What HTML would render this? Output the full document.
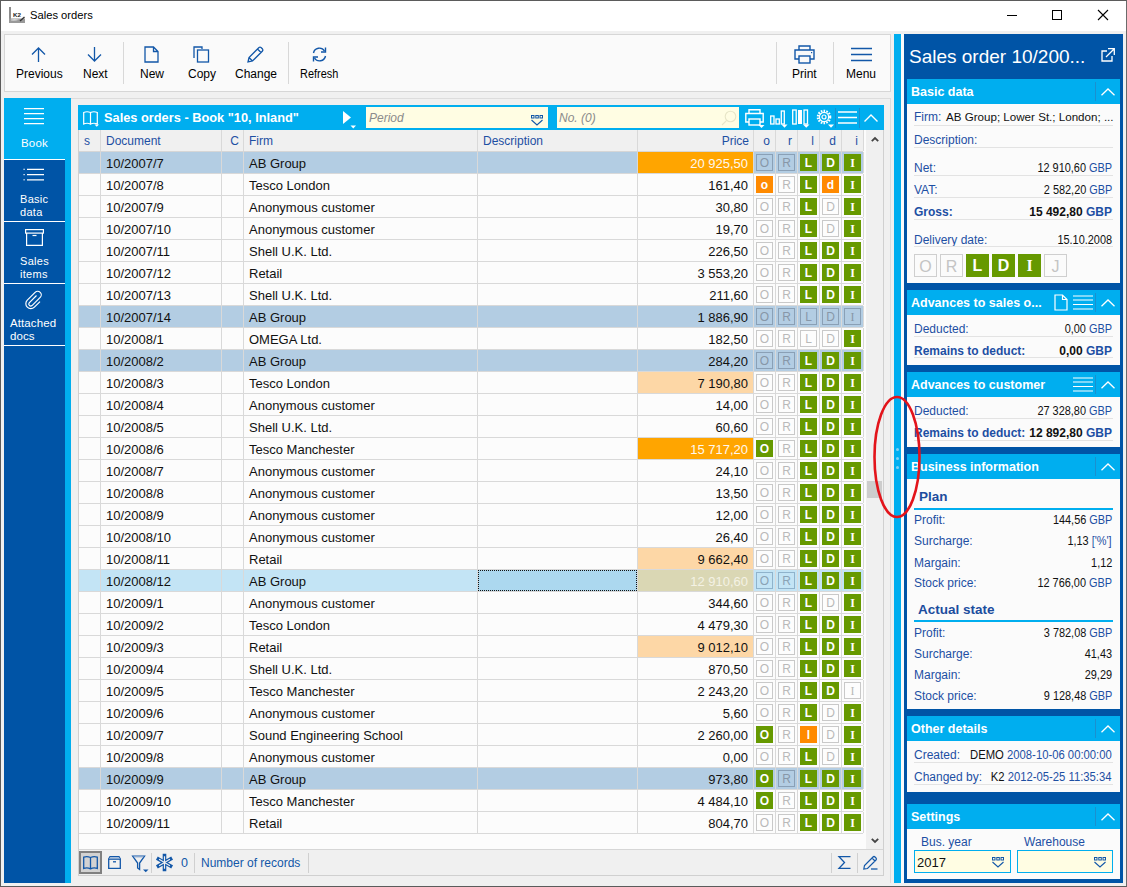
<!DOCTYPE html><html><head><meta charset="utf-8"><style>
*{box-sizing:border-box;margin:0;padding:0}
html,body{width:1127px;height:887px;overflow:hidden;background:#f0f0f0;font-family:"Liberation Sans",sans-serif;color:#111}
.a{position:absolute}
.t{position:absolute;white-space:pre;line-height:1}
svg{position:absolute;overflow:visible}
.row{position:absolute;left:79px;width:784px;height:22px;border-bottom:1px solid #d9d9d9;background:#fcfcfc}
.c{position:absolute;top:0;height:21px;border-right:1px solid #d9d9d9;font-size:13px;line-height:23px;white-space:pre;overflow:hidden}
.sq{position:absolute;left:2px;top:2px;width:17px;height:17px;font-size:12px;font-weight:bold;color:#fff;text-align:center;line-height:18px}
.sg{background:#669900}
.so{background:#ff8a00}
.sx{border:1px solid #c9c9c9;color:#b9b9b9;font-weight:normal;line-height:16px;font-size:12px}
.ss{border:1px solid #8aa0b6;color:#8797a8;font-weight:normal;line-height:16px;font-size:12px}
.hd{position:absolute;top:0;height:21px;border-right:1px solid #d9d9d9;font-size:12px;line-height:22px;color:#1d4fa3;white-space:pre}
.sec{position:absolute;left:907px;width:213px;background:#fbfbfb}
.sech{position:absolute;left:0;top:0;width:213px;height:25px;background:#00aeef;color:#fff;font-weight:bold;font-size:12.5px;line-height:27px;padding-left:4px;white-space:pre}
.lbl{color:#1d4fa3}
.fr{position:absolute;left:7px;width:199px;height:22px;border-bottom:1px solid #e3e3e3;font-size:12px;white-space:pre}
.fr .l{position:absolute;left:0;bottom:3px;color:#1d4fa3}
.fr .v{position:absolute;right:1px;bottom:3px;color:#111}
.g{color:#1d4fa3}
</style></head><body>
<div class="a" style="left:0;top:0;width:1127px;height:887px;border:1px solid #5b5b5b;border-right-color:#6b6b6b"></div>
<div class="a" style="left:1px;top:1px;width:1125px;height:30px;background:#fff"></div>
<svg style="left:9px;top:7px" width="17" height="16" viewBox="0 0 17 16">
<rect x="0" y="0" width="2" height="16" fill="#8c8c8c"/>
<rect x="0" y="11.5" width="16" height="4.5" fill="#9a9a9a"/>
<path d="M2 12.5Q6 11.5 10 12.8Q6 14 2 13.5Z" fill="#d8d8d8"/>
<path d="M11 14L15.5 10" stroke="#333" stroke-width="1.4"/>
<text x="4" y="10" font-size="6" font-weight="bold" font-family="Liberation Sans" fill="#222" textLength="8" lengthAdjust="spacingAndGlyphs">K2</text>
</svg>
<div class="t" style="left:30px;top:10px;font-size:11.2px;color:#000">Sales orders</div>
<div class="a" style="left:1007px;top:15px;width:10px;height:1px;background:#000"></div>
<div class="a" style="left:1052px;top:10px;width:10px;height:10px;border:1px solid #000"></div>
<svg style="left:1098px;top:10px" width="10" height="10" viewBox="0 0 10 10"><path d="M0 0L10 10M10 0L0 10" stroke="#000" stroke-width="1.1"/></svg>
<div class="a" style="left:4px;top:34px;width:887px;height:58px;background:#fafafa;border:1px solid #d6d6d6"></div>
<svg style="left:30px;top:47px" width="17" height="15" viewBox="0 0 17 15"><path d="M8.5 15V1M2 7.5L8.5 1L15 7.5" fill="none" stroke="#1257a8" stroke-width="1.3"/></svg>
<div class="t" style="left:16px;top:68px;font-size:12px;color:#000">Previous</div>
<svg style="left:86px;top:47px" width="17" height="15" viewBox="0 0 17 15"><path d="M8.5 0V14M2 7.5L8.5 14L15 7.5" fill="none" stroke="#1257a8" stroke-width="1.3"/></svg>
<div class="t" style="left:83px;top:68px;font-size:12px;color:#000">Next</div>
<div class="a" style="left:123px;top:42px;width:1px;height:42px;background:#d8d8d8"></div>
<svg style="left:144px;top:46px" width="15" height="17" viewBox="0 0 15 17"><path d="M1 1H9.5L14 5.5V16H1Z M9.5 1V5.5H14" fill="none" stroke="#1257a8" stroke-width="1.3"/></svg>
<div class="t" style="left:140px;top:68px;font-size:12px;color:#000">New</div>
<svg style="left:193px;top:46px" width="17" height="17" viewBox="0 0 17 17"><path d="M1 12V1H9V3" fill="none" stroke="#1257a8" stroke-width="1.3"/><rect x="4.5" y="4" width="11" height="12" fill="none" stroke="#1257a8" stroke-width="1.3"/></svg>
<div class="t" style="left:188px;top:68px;font-size:12px;color:#000">Copy</div>
<svg style="left:247px;top:46px" width="17" height="17" viewBox="0 0 17 17"><path d="M1 16L2 11.5L12 1.5Q13 0.8 14 1.5L15.5 3Q16.2 4 15.5 5L5.5 15Z M10.5 3L14 6.5 M2 11.5L5.5 15" fill="none" stroke="#1257a8" stroke-width="1.3"/></svg>
<div class="t" style="left:235px;top:68px;font-size:12px;color:#000">Change</div>
<div class="a" style="left:288px;top:42px;width:1px;height:42px;background:#d8d8d8"></div>
<svg style="left:311px;top:46px" width="17" height="17" viewBox="0 0 17 17"><path d="M2.5 7A6 6 0 0 1 13.5 5 M14.5 10A6 6 0 0 1 3.5 12" fill="none" stroke="#1257a8" stroke-width="1.4"/><path d="M14.5 1.5V6H10" fill="none" stroke="#1257a8" stroke-width="1.4"/><path d="M2.5 15.5V11H7" fill="none" stroke="#1257a8" stroke-width="1.4"/></svg>
<div class="t" style="left:300px;top:68px;font-size:12px;color:#000;transform:scaleX(0.91);transform-origin:0 50%">Refresh</div>
<div class="a" style="left:776px;top:42px;width:1px;height:42px;background:#d8d8d8"></div>
<div class="a" style="left:833px;top:42px;width:1px;height:42px;background:#d8d8d8"></div>
<svg style="left:794px;top:45px" width="22" height="19" viewBox="0 0 22 19"><path d="M5 5V1H16V5" fill="none" stroke="#1257a8" stroke-width="1.4"/><path d="M5 14H1V5H20V14H16" fill="none" stroke="#1257a8" stroke-width="1.4"/><rect x="5" y="11" width="11" height="7" fill="none" stroke="#1257a8" stroke-width="1.4"/><rect x="17" y="7" width="1.2" height="1.2" fill="#1257a8"/></svg>
<div class="t" style="left:792px;top:68px;font-size:12px;color:#000">Print</div>
<svg style="left:851px;top:47px" width="21" height="15" viewBox="0 0 21 15"><path d="M0 1.5H21M0 7.5H21M0 13.5H21" stroke="#1257a8" stroke-width="1.4"/></svg>
<div class="t" style="left:846px;top:68px;font-size:12px;color:#000">Menu</div>
<div class="a" style="left:4px;top:98px;width:887px;height:785px;background:#f0f0f0;border-top:1px solid #dcdcdc;border-right:1px solid #dcdcdc"></div>
<div class="a" style="left:4px;top:98px;width:67px;height:785px;background:#00aeef"></div>
<div class="a" style="left:4px;top:160px;width:61px;height:723px;background:#0054a6"></div>
<div class="a" style="left:4px;top:159px;width:61px;height:1px;background:#fff"></div>
<div class="a" style="left:4px;top:221px;width:61px;height:1px;background:#fff"></div>
<div class="a" style="left:4px;top:283px;width:61px;height:1px;background:#fff"></div>
<div class="a" style="left:4px;top:345px;width:61px;height:1px;background:#fff"></div>
<svg style="left:24px;top:108px" width="20" height="17" viewBox="0 0 20 17"><path d="M0 0.6H20M0 5.6H20M0 10.6H20M0 15.6H20" stroke="#fff" stroke-width="1.2"/></svg>
<div class="t" style="left:4px;width:61px;text-align:center;top:138px;font-size:11.5px;color:#fff;letter-spacing:0.2px">Book</div>
<svg style="left:23px;top:168px" width="22" height="13" viewBox="0 0 22 13"><path d="M4 1.3H21M4 6.6H21M4 11.8H21" stroke="#fff" stroke-width="1.2"/><rect x="0.5" y="0.7" width="1.2" height="1.2" fill="#fff"/><rect x="0.5" y="6" width="1.2" height="1.2" fill="#fff"/><rect x="0.5" y="11.2" width="1.2" height="1.2" fill="#fff"/></svg>
<div class="t" style="left:20px;top:193px;font-size:11px;color:#fff;line-height:13px;letter-spacing:0.3px">Basic<br>data</div>
<svg style="left:25px;top:229px" width="19" height="17" viewBox="0 0 19 17"><rect x="0.6" y="0.6" width="17.8" height="3.5" fill="none" stroke="#fff" stroke-width="1.2"/><path d="M1.6 4.1V16.4H17.4V4.1" fill="none" stroke="#fff" stroke-width="1.2"/><path d="M7.5 6.5H11.5" stroke="#fff" stroke-width="1.2"/></svg>
<div class="t" style="left:20px;top:255px;font-size:11px;color:#fff;line-height:13px;letter-spacing:0.3px">Sales<br>items</div>
<svg style="left:25px;top:290px" width="18" height="19" viewBox="0 0 18 19"><path d="M11.5 5.5L4.2 12.8A2 2 0 0 0 7 15.6L15.2 7.4A3.6 3.6 0 0 0 10.1 2.3L2.3 10.1A5 5 0 0 0 9.4 17.2L15 11.6" fill="none" stroke="#fff" stroke-width="1.2"/></svg>
<div class="t" style="left:10px;top:317px;font-size:11.5px;color:#fff;line-height:13px;letter-spacing:0.1px">Attached<br>docs</div>
<div class="a" style="left:78px;top:105px;width:806px;height:771px;background:#fcfcfc;border:1px solid #d0d0d0"></div>
<div class="a" style="left:78px;top:105px;width:806px;height:25px;background:#00aeef"></div>
<svg style="left:83px;top:111px" width="17" height="16" viewBox="0 0 17 16"><path d="M0.7 1.5Q4 0 7.5 1.5V13Q4 11.5 0.7 13Z M7.5 1.5Q11 0 14.3 1.5V13Q11 11.5 7.5 13Z" fill="none" stroke="#fff" stroke-width="1.2"/><path d="M11.5 13.5H16L13.75 15.8Z" fill="#fff"/></svg>
<div class="t" style="left:104px;top:112px;font-size:12.8px;font-weight:bold;color:#fff">Sales orders - Book "10, Inland"</div>
<svg style="left:342px;top:110px" width="15" height="19" viewBox="0 0 15 19"><path d="M1 1L9 7.5L1 14Z" fill="#fff"/><path d="M8.5 15.5H14L11.25 18.5Z" fill="#fff"/></svg>
<div class="a" style="left:366px;top:107px;width:182px;height:21px;background:#fffde3"></div>
<div class="t" style="left:369px;top:112px;font-size:12px;font-style:italic;color:#8b8b8b">Period</div>
<svg style="left:531px;top:115px" width="12" height="11" viewBox="0 0 12 11"><rect x="0.5" y="0.5" width="2.5" height="2.5" fill="none" stroke="#1257a8" stroke-width="1"/><rect x="4.8" y="0.5" width="2.5" height="2.5" fill="none" stroke="#1257a8" stroke-width="1"/><rect x="9" y="0.5" width="2.5" height="2.5" fill="none" stroke="#1257a8" stroke-width="1"/><path d="M0.5 5L6 10L11.5 5" fill="none" stroke="#1257a8" stroke-width="1.1"/></svg>
<div class="a" style="left:557px;top:107px;width:182px;height:21px;background:#fffde3"></div>
<div class="t" style="left:559px;top:112px;font-size:12px;font-style:italic;color:#8b8b8b">No. (0)</div>
<svg style="left:721px;top:110px" width="16" height="16" viewBox="0 0 16 16"><circle cx="9.5" cy="6.5" r="5.3" fill="none" stroke="#e8e6c8" stroke-width="1.1"/><path d="M5.7 10.3L1 15" stroke="#e8e6c8" stroke-width="1.1"/></svg>
<svg style="left:745px;top:109px" width="20" height="19" viewBox="0 0 20 19"><path d="M4 4.5V0.8H15V4.5" fill="none" stroke="#fff" stroke-width="1.4"/><path d="M4 13H0.8V4.5H18.2V13H15" fill="none" stroke="#fff" stroke-width="1.4"/><rect x="4" y="10" width="11" height="6" fill="none" stroke="#fff" stroke-width="1.4"/><path d="M13.5 16H19.5L16.5 19Z" fill="#fff"/></svg>
<svg style="left:770px;top:110px" width="18" height="18" viewBox="0 0 18 18"><rect x="0.7" y="6" width="3.3" height="8" fill="none" stroke="#fff" stroke-width="1.3"/><rect x="6" y="9" width="3.3" height="5" fill="none" stroke="#fff" stroke-width="1.3"/><rect x="11.3" y="1" width="3" height="13" fill="none" stroke="#fff" stroke-width="1.3"/><path d="M11.5 14.5H17.5L14.5 17.8Z" fill="#fff"/></svg>
<svg style="left:792px;top:109px" width="19" height="19" viewBox="0 0 19 19"><rect x="0.7" y="1" width="3.5" height="14" fill="none" stroke="#fff" stroke-width="1.3"/><rect x="6" y="1" width="4" height="14" fill="#fff"/><rect x="12" y="1" width="3.5" height="14" fill="none" stroke="#fff" stroke-width="1.3"/><path d="M11 15.5H17.5L14.25 18.8Z" fill="#fff"/></svg>
<svg style="left:816px;top:109px" width="18" height="19" viewBox="0 0 18 19"><circle cx="8" cy="8" r="6.2" fill="none" stroke="#fff" stroke-width="2.2" stroke-dasharray="1.6 1.2"/><circle cx="8" cy="8" r="4.6" fill="none" stroke="#fff" stroke-width="1.2"/><circle cx="8" cy="8" r="2" fill="none" stroke="#fff" stroke-width="1.2"/><path d="M12 15.5H18L15 18.8Z" fill="#fff"/></svg>
<div class="a" style="left:835px;top:108px;width:1px;height:20px;background:#1a8fcf"></div>
<svg style="left:838px;top:111px" width="19" height="13" viewBox="0 0 19 13"><path d="M0 1H19M0 6.5H19M0 12H19" stroke="#fff" stroke-width="1.3"/></svg>
<div class="a" style="left:859px;top:108px;width:1px;height:20px;background:#1a8fcf"></div>
<svg style="left:864px;top:114px" width="14" height="8" viewBox="0 0 14 8"><path d="M0.5 7.5L7 1L13.5 7.5" fill="none" stroke="#fff" stroke-width="1.4"/></svg>
<div class="a" style="left:79px;top:130px;width:784px;height:22px;background:#f0f0f0;border-bottom:1px solid #d6d6d6"></div>
<div class="hd" style="left:79px;top:130px;width:22px;padding-left:5px">s</div>
<div class="hd" style="left:101px;top:130px;width:121px;padding-left:5px">Document</div>
<div class="hd" style="left:222px;top:130px;width:22px;text-align:right;padding-right:4px">C</div>
<div class="hd" style="left:244px;top:130px;width:234px;padding-left:5px">Firm</div>
<div class="hd" style="left:478px;top:130px;width:160px;padding-left:5px">Description</div>
<div class="hd" style="left:638px;top:130px;width:116px;text-align:right;padding-right:4px">Price</div>
<div class="hd" style="left:754px;top:130px;width:22px;text-align:right;padding-right:5px">o</div>
<div class="hd" style="left:776px;top:130px;width:22px;text-align:right;padding-right:5px">r</div>
<div class="hd" style="left:798px;top:130px;width:22px;text-align:right;padding-right:5px">l</div>
<div class="hd" style="left:820px;top:130px;width:22px;text-align:right;padding-right:5px">d</div>
<div class="hd" style="left:842px;top:130px;width:22px;text-align:right;padding-right:5px">i</div>
<div class="a" style="left:866px;top:130px;width:17px;height:719px;background:#f0f0f0"></div>
<svg style="left:871px;top:136px" width="8" height="6" viewBox="0 0 8 6"><path d="M0.8 5.2L4 2L7.2 5.2" fill="none" stroke="#444" stroke-width="1.8"/></svg>
<svg style="left:871px;top:838px" width="8" height="6" viewBox="0 0 8 6"><path d="M0.8 0.8L4 4L7.2 0.8" fill="none" stroke="#444" stroke-width="1.8"/></svg>
<div class="a" style="left:867px;top:481px;width:15px;height:17px;background:#cdcdcd"></div>
<div class="row" style="top:152px;background:#b3cde3">
<div class="c" style="left:0px;width:22px;"></div>
<div class="c" style="left:22px;width:121px;padding-left:5px">10/2007/7</div>
<div class="c" style="left:143px;width:22px;"></div>
<div class="c" style="left:165px;width:234px;padding-left:5px">AB Group</div>
<div class="c" style="left:399px;width:160px;"></div>
<div class="c" style="left:559px;width:116px;text-align:right;padding-right:5px;color:#fff8ee;background:#ffa500;">20 925,50</div>
<div class="c" style="left:675px;width:22px"><div class="sq ss" style="">O</div></div>
<div class="c" style="left:697px;width:22px"><div class="sq ss" style="">R</div></div>
<div class="c" style="left:719px;width:22px"><div class="sq sg" style="">L</div></div>
<div class="c" style="left:741px;width:22px"><div class="sq sg" style="">D</div></div>
<div class="c" style="left:763px;width:22px"><div class="sq sg" style=";font-family:'Liberation Serif',serif">I</div></div>
</div>
<div class="row" style="top:174px;background:#fcfcfc">
<div class="c" style="left:0px;width:22px;"></div>
<div class="c" style="left:22px;width:121px;padding-left:5px">10/2007/8</div>
<div class="c" style="left:143px;width:22px;"></div>
<div class="c" style="left:165px;width:234px;padding-left:5px">Tesco London</div>
<div class="c" style="left:399px;width:160px;"></div>
<div class="c" style="left:559px;width:116px;text-align:right;padding-right:5px;color:#111;">161,40</div>
<div class="c" style="left:675px;width:22px"><div class="sq so" style="">o</div></div>
<div class="c" style="left:697px;width:22px"><div class="sq sx" style="background:#fdfdfd">R</div></div>
<div class="c" style="left:719px;width:22px"><div class="sq sg" style="">L</div></div>
<div class="c" style="left:741px;width:22px"><div class="sq so" style="">d</div></div>
<div class="c" style="left:763px;width:22px"><div class="sq sg" style=";font-family:'Liberation Serif',serif">I</div></div>
</div>
<div class="row" style="top:196px;background:#fcfcfc">
<div class="c" style="left:0px;width:22px;"></div>
<div class="c" style="left:22px;width:121px;padding-left:5px">10/2007/9</div>
<div class="c" style="left:143px;width:22px;"></div>
<div class="c" style="left:165px;width:234px;padding-left:5px">Anonymous customer</div>
<div class="c" style="left:399px;width:160px;"></div>
<div class="c" style="left:559px;width:116px;text-align:right;padding-right:5px;color:#111;">30,80</div>
<div class="c" style="left:675px;width:22px"><div class="sq sx" style="background:#fdfdfd">O</div></div>
<div class="c" style="left:697px;width:22px"><div class="sq sx" style="background:#fdfdfd">R</div></div>
<div class="c" style="left:719px;width:22px"><div class="sq sg" style="">L</div></div>
<div class="c" style="left:741px;width:22px"><div class="sq sx" style="background:#fdfdfd">D</div></div>
<div class="c" style="left:763px;width:22px"><div class="sq sg" style=";font-family:'Liberation Serif',serif">I</div></div>
</div>
<div class="row" style="top:218px;background:#fcfcfc">
<div class="c" style="left:0px;width:22px;"></div>
<div class="c" style="left:22px;width:121px;padding-left:5px">10/2007/10</div>
<div class="c" style="left:143px;width:22px;"></div>
<div class="c" style="left:165px;width:234px;padding-left:5px">Anonymous customer</div>
<div class="c" style="left:399px;width:160px;"></div>
<div class="c" style="left:559px;width:116px;text-align:right;padding-right:5px;color:#111;">19,70</div>
<div class="c" style="left:675px;width:22px"><div class="sq sx" style="background:#fdfdfd">O</div></div>
<div class="c" style="left:697px;width:22px"><div class="sq sx" style="background:#fdfdfd">R</div></div>
<div class="c" style="left:719px;width:22px"><div class="sq sg" style="">L</div></div>
<div class="c" style="left:741px;width:22px"><div class="sq sx" style="background:#fdfdfd">D</div></div>
<div class="c" style="left:763px;width:22px"><div class="sq sg" style=";font-family:'Liberation Serif',serif">I</div></div>
</div>
<div class="row" style="top:240px;background:#fcfcfc">
<div class="c" style="left:0px;width:22px;"></div>
<div class="c" style="left:22px;width:121px;padding-left:5px">10/2007/11</div>
<div class="c" style="left:143px;width:22px;"></div>
<div class="c" style="left:165px;width:234px;padding-left:5px">Shell U.K. Ltd.</div>
<div class="c" style="left:399px;width:160px;"></div>
<div class="c" style="left:559px;width:116px;text-align:right;padding-right:5px;color:#111;">226,50</div>
<div class="c" style="left:675px;width:22px"><div class="sq sx" style="background:#fdfdfd">O</div></div>
<div class="c" style="left:697px;width:22px"><div class="sq sx" style="background:#fdfdfd">R</div></div>
<div class="c" style="left:719px;width:22px"><div class="sq sg" style="">L</div></div>
<div class="c" style="left:741px;width:22px"><div class="sq sg" style="">D</div></div>
<div class="c" style="left:763px;width:22px"><div class="sq sg" style=";font-family:'Liberation Serif',serif">I</div></div>
</div>
<div class="row" style="top:262px;background:#fcfcfc">
<div class="c" style="left:0px;width:22px;"></div>
<div class="c" style="left:22px;width:121px;padding-left:5px">10/2007/12</div>
<div class="c" style="left:143px;width:22px;"></div>
<div class="c" style="left:165px;width:234px;padding-left:5px">Retail</div>
<div class="c" style="left:399px;width:160px;"></div>
<div class="c" style="left:559px;width:116px;text-align:right;padding-right:5px;color:#111;">3 553,20</div>
<div class="c" style="left:675px;width:22px"><div class="sq sx" style="background:#fdfdfd">O</div></div>
<div class="c" style="left:697px;width:22px"><div class="sq sx" style="background:#fdfdfd">R</div></div>
<div class="c" style="left:719px;width:22px"><div class="sq sg" style="">L</div></div>
<div class="c" style="left:741px;width:22px"><div class="sq sg" style="">D</div></div>
<div class="c" style="left:763px;width:22px"><div class="sq sg" style=";font-family:'Liberation Serif',serif">I</div></div>
</div>
<div class="row" style="top:284px;background:#fcfcfc">
<div class="c" style="left:0px;width:22px;"></div>
<div class="c" style="left:22px;width:121px;padding-left:5px">10/2007/13</div>
<div class="c" style="left:143px;width:22px;"></div>
<div class="c" style="left:165px;width:234px;padding-left:5px">Shell U.K. Ltd.</div>
<div class="c" style="left:399px;width:160px;"></div>
<div class="c" style="left:559px;width:116px;text-align:right;padding-right:5px;color:#111;">211,60</div>
<div class="c" style="left:675px;width:22px"><div class="sq sx" style="background:#fdfdfd">O</div></div>
<div class="c" style="left:697px;width:22px"><div class="sq sx" style="background:#fdfdfd">R</div></div>
<div class="c" style="left:719px;width:22px"><div class="sq sg" style="">L</div></div>
<div class="c" style="left:741px;width:22px"><div class="sq sg" style="">D</div></div>
<div class="c" style="left:763px;width:22px"><div class="sq sg" style=";font-family:'Liberation Serif',serif">I</div></div>
</div>
<div class="row" style="top:306px;background:#b3cde3">
<div class="c" style="left:0px;width:22px;"></div>
<div class="c" style="left:22px;width:121px;padding-left:5px">10/2007/14</div>
<div class="c" style="left:143px;width:22px;"></div>
<div class="c" style="left:165px;width:234px;padding-left:5px">AB Group</div>
<div class="c" style="left:399px;width:160px;"></div>
<div class="c" style="left:559px;width:116px;text-align:right;padding-right:5px;color:#111;">1 886,90</div>
<div class="c" style="left:675px;width:22px"><div class="sq ss" style="">O</div></div>
<div class="c" style="left:697px;width:22px"><div class="sq ss" style="">R</div></div>
<div class="c" style="left:719px;width:22px"><div class="sq ss" style="">L</div></div>
<div class="c" style="left:741px;width:22px"><div class="sq ss" style="">D</div></div>
<div class="c" style="left:763px;width:22px"><div class="sq ss" style=";font-family:'Liberation Serif',serif">I</div></div>
</div>
<div class="row" style="top:328px;background:#fcfcfc">
<div class="c" style="left:0px;width:22px;"></div>
<div class="c" style="left:22px;width:121px;padding-left:5px">10/2008/1</div>
<div class="c" style="left:143px;width:22px;"></div>
<div class="c" style="left:165px;width:234px;padding-left:5px">OMEGA Ltd.</div>
<div class="c" style="left:399px;width:160px;"></div>
<div class="c" style="left:559px;width:116px;text-align:right;padding-right:5px;color:#111;">182,50</div>
<div class="c" style="left:675px;width:22px"><div class="sq sx" style="background:#fdfdfd">O</div></div>
<div class="c" style="left:697px;width:22px"><div class="sq sx" style="background:#fdfdfd">R</div></div>
<div class="c" style="left:719px;width:22px"><div class="sq sx" style="background:#fdfdfd">L</div></div>
<div class="c" style="left:741px;width:22px"><div class="sq sx" style="background:#fdfdfd">D</div></div>
<div class="c" style="left:763px;width:22px"><div class="sq sg" style=";font-family:'Liberation Serif',serif">I</div></div>
</div>
<div class="row" style="top:350px;background:#b3cde3">
<div class="c" style="left:0px;width:22px;"></div>
<div class="c" style="left:22px;width:121px;padding-left:5px">10/2008/2</div>
<div class="c" style="left:143px;width:22px;"></div>
<div class="c" style="left:165px;width:234px;padding-left:5px">AB Group</div>
<div class="c" style="left:399px;width:160px;"></div>
<div class="c" style="left:559px;width:116px;text-align:right;padding-right:5px;color:#111;">284,20</div>
<div class="c" style="left:675px;width:22px"><div class="sq ss" style="">O</div></div>
<div class="c" style="left:697px;width:22px"><div class="sq ss" style="">R</div></div>
<div class="c" style="left:719px;width:22px"><div class="sq sg" style="">L</div></div>
<div class="c" style="left:741px;width:22px"><div class="sq sg" style="">D</div></div>
<div class="c" style="left:763px;width:22px"><div class="sq sg" style=";font-family:'Liberation Serif',serif">I</div></div>
</div>
<div class="row" style="top:372px;background:#fcfcfc">
<div class="c" style="left:0px;width:22px;"></div>
<div class="c" style="left:22px;width:121px;padding-left:5px">10/2008/3</div>
<div class="c" style="left:143px;width:22px;"></div>
<div class="c" style="left:165px;width:234px;padding-left:5px">Tesco London</div>
<div class="c" style="left:399px;width:160px;"></div>
<div class="c" style="left:559px;width:116px;text-align:right;padding-right:5px;color:#111;background:#fdd7a6;">7 190,80</div>
<div class="c" style="left:675px;width:22px"><div class="sq sx" style="background:#fdfdfd">O</div></div>
<div class="c" style="left:697px;width:22px"><div class="sq sx" style="background:#fdfdfd">R</div></div>
<div class="c" style="left:719px;width:22px"><div class="sq sg" style="">L</div></div>
<div class="c" style="left:741px;width:22px"><div class="sq sg" style="">D</div></div>
<div class="c" style="left:763px;width:22px"><div class="sq sg" style=";font-family:'Liberation Serif',serif">I</div></div>
</div>
<div class="row" style="top:394px;background:#fcfcfc">
<div class="c" style="left:0px;width:22px;"></div>
<div class="c" style="left:22px;width:121px;padding-left:5px">10/2008/4</div>
<div class="c" style="left:143px;width:22px;"></div>
<div class="c" style="left:165px;width:234px;padding-left:5px">Anonymous customer</div>
<div class="c" style="left:399px;width:160px;"></div>
<div class="c" style="left:559px;width:116px;text-align:right;padding-right:5px;color:#111;">14,00</div>
<div class="c" style="left:675px;width:22px"><div class="sq sx" style="background:#fdfdfd">O</div></div>
<div class="c" style="left:697px;width:22px"><div class="sq sx" style="background:#fdfdfd">R</div></div>
<div class="c" style="left:719px;width:22px"><div class="sq sg" style="">L</div></div>
<div class="c" style="left:741px;width:22px"><div class="sq sg" style="">D</div></div>
<div class="c" style="left:763px;width:22px"><div class="sq sg" style=";font-family:'Liberation Serif',serif">I</div></div>
</div>
<div class="row" style="top:416px;background:#fcfcfc">
<div class="c" style="left:0px;width:22px;"></div>
<div class="c" style="left:22px;width:121px;padding-left:5px">10/2008/5</div>
<div class="c" style="left:143px;width:22px;"></div>
<div class="c" style="left:165px;width:234px;padding-left:5px">Shell U.K. Ltd.</div>
<div class="c" style="left:399px;width:160px;"></div>
<div class="c" style="left:559px;width:116px;text-align:right;padding-right:5px;color:#111;">60,60</div>
<div class="c" style="left:675px;width:22px"><div class="sq sx" style="background:#fdfdfd">O</div></div>
<div class="c" style="left:697px;width:22px"><div class="sq sx" style="background:#fdfdfd">R</div></div>
<div class="c" style="left:719px;width:22px"><div class="sq sg" style="">L</div></div>
<div class="c" style="left:741px;width:22px"><div class="sq sg" style="">D</div></div>
<div class="c" style="left:763px;width:22px"><div class="sq sg" style=";font-family:'Liberation Serif',serif">I</div></div>
</div>
<div class="row" style="top:438px;background:#fcfcfc">
<div class="c" style="left:0px;width:22px;"></div>
<div class="c" style="left:22px;width:121px;padding-left:5px">10/2008/6</div>
<div class="c" style="left:143px;width:22px;"></div>
<div class="c" style="left:165px;width:234px;padding-left:5px">Tesco Manchester</div>
<div class="c" style="left:399px;width:160px;"></div>
<div class="c" style="left:559px;width:116px;text-align:right;padding-right:5px;color:#fff8ee;background:#ffa500;">15 717,20</div>
<div class="c" style="left:675px;width:22px"><div class="sq sg" style="">O</div></div>
<div class="c" style="left:697px;width:22px"><div class="sq sx" style="background:#fdfdfd">R</div></div>
<div class="c" style="left:719px;width:22px"><div class="sq sg" style="">L</div></div>
<div class="c" style="left:741px;width:22px"><div class="sq sg" style="">D</div></div>
<div class="c" style="left:763px;width:22px"><div class="sq sg" style=";font-family:'Liberation Serif',serif">I</div></div>
</div>
<div class="row" style="top:460px;background:#fcfcfc">
<div class="c" style="left:0px;width:22px;"></div>
<div class="c" style="left:22px;width:121px;padding-left:5px">10/2008/7</div>
<div class="c" style="left:143px;width:22px;"></div>
<div class="c" style="left:165px;width:234px;padding-left:5px">Anonymous customer</div>
<div class="c" style="left:399px;width:160px;"></div>
<div class="c" style="left:559px;width:116px;text-align:right;padding-right:5px;color:#111;">24,10</div>
<div class="c" style="left:675px;width:22px"><div class="sq sx" style="background:#fdfdfd">O</div></div>
<div class="c" style="left:697px;width:22px"><div class="sq sx" style="background:#fdfdfd">R</div></div>
<div class="c" style="left:719px;width:22px"><div class="sq sg" style="">L</div></div>
<div class="c" style="left:741px;width:22px"><div class="sq sg" style="">D</div></div>
<div class="c" style="left:763px;width:22px"><div class="sq sg" style=";font-family:'Liberation Serif',serif">I</div></div>
</div>
<div class="row" style="top:482px;background:#fcfcfc">
<div class="c" style="left:0px;width:22px;"></div>
<div class="c" style="left:22px;width:121px;padding-left:5px">10/2008/8</div>
<div class="c" style="left:143px;width:22px;"></div>
<div class="c" style="left:165px;width:234px;padding-left:5px">Anonymous customer</div>
<div class="c" style="left:399px;width:160px;"></div>
<div class="c" style="left:559px;width:116px;text-align:right;padding-right:5px;color:#111;">13,50</div>
<div class="c" style="left:675px;width:22px"><div class="sq sx" style="background:#fdfdfd">O</div></div>
<div class="c" style="left:697px;width:22px"><div class="sq sx" style="background:#fdfdfd">R</div></div>
<div class="c" style="left:719px;width:22px"><div class="sq sg" style="">L</div></div>
<div class="c" style="left:741px;width:22px"><div class="sq sg" style="">D</div></div>
<div class="c" style="left:763px;width:22px"><div class="sq sg" style=";font-family:'Liberation Serif',serif">I</div></div>
</div>
<div class="row" style="top:504px;background:#fcfcfc">
<div class="c" style="left:0px;width:22px;"></div>
<div class="c" style="left:22px;width:121px;padding-left:5px">10/2008/9</div>
<div class="c" style="left:143px;width:22px;"></div>
<div class="c" style="left:165px;width:234px;padding-left:5px">Anonymous customer</div>
<div class="c" style="left:399px;width:160px;"></div>
<div class="c" style="left:559px;width:116px;text-align:right;padding-right:5px;color:#111;">12,00</div>
<div class="c" style="left:675px;width:22px"><div class="sq sx" style="background:#fdfdfd">O</div></div>
<div class="c" style="left:697px;width:22px"><div class="sq sx" style="background:#fdfdfd">R</div></div>
<div class="c" style="left:719px;width:22px"><div class="sq sg" style="">L</div></div>
<div class="c" style="left:741px;width:22px"><div class="sq sg" style="">D</div></div>
<div class="c" style="left:763px;width:22px"><div class="sq sg" style=";font-family:'Liberation Serif',serif">I</div></div>
</div>
<div class="row" style="top:526px;background:#fcfcfc">
<div class="c" style="left:0px;width:22px;"></div>
<div class="c" style="left:22px;width:121px;padding-left:5px">10/2008/10</div>
<div class="c" style="left:143px;width:22px;"></div>
<div class="c" style="left:165px;width:234px;padding-left:5px">Anonymous customer</div>
<div class="c" style="left:399px;width:160px;"></div>
<div class="c" style="left:559px;width:116px;text-align:right;padding-right:5px;color:#111;">26,40</div>
<div class="c" style="left:675px;width:22px"><div class="sq sx" style="background:#fdfdfd">O</div></div>
<div class="c" style="left:697px;width:22px"><div class="sq sx" style="background:#fdfdfd">R</div></div>
<div class="c" style="left:719px;width:22px"><div class="sq sg" style="">L</div></div>
<div class="c" style="left:741px;width:22px"><div class="sq sg" style="">D</div></div>
<div class="c" style="left:763px;width:22px"><div class="sq sg" style=";font-family:'Liberation Serif',serif">I</div></div>
</div>
<div class="row" style="top:548px;background:#fcfcfc">
<div class="c" style="left:0px;width:22px;"></div>
<div class="c" style="left:22px;width:121px;padding-left:5px">10/2008/11</div>
<div class="c" style="left:143px;width:22px;"></div>
<div class="c" style="left:165px;width:234px;padding-left:5px">Retail</div>
<div class="c" style="left:399px;width:160px;"></div>
<div class="c" style="left:559px;width:116px;text-align:right;padding-right:5px;color:#111;background:#fdd7a6;">9 662,40</div>
<div class="c" style="left:675px;width:22px"><div class="sq sx" style="background:#fdfdfd">O</div></div>
<div class="c" style="left:697px;width:22px"><div class="sq sx" style="background:#fdfdfd">R</div></div>
<div class="c" style="left:719px;width:22px"><div class="sq sg" style="">L</div></div>
<div class="c" style="left:741px;width:22px"><div class="sq sg" style="">D</div></div>
<div class="c" style="left:763px;width:22px"><div class="sq sg" style=";font-family:'Liberation Serif',serif">I</div></div>
</div>
<div class="row" style="top:570px;background:#c3e4f5">
<div class="c" style="left:0px;width:22px;"></div>
<div class="c" style="left:22px;width:121px;padding-left:5px">10/2008/12</div>
<div class="c" style="left:143px;width:22px;"></div>
<div class="c" style="left:165px;width:234px;padding-left:5px">AB Group</div>
<div class="c" style="left:399px;width:160px;background:#acd8ef;"></div>
<div class="a" style="left:399px;top:0px;width:159px;height:21px;border:1px dotted #111"></div>
<div class="c" style="left:559px;width:116px;text-align:right;padding-right:5px;color:#f4f2e4;background:#dad7b4;">12 910,60</div>
<div class="c" style="left:675px;width:22px"><div class="sq ss" style="border-color:#8fb3cc;color:#8aa3b5">O</div></div>
<div class="c" style="left:697px;width:22px"><div class="sq ss" style="border-color:#8fb3cc;color:#8aa3b5">R</div></div>
<div class="c" style="left:719px;width:22px"><div class="sq sg" style="">L</div></div>
<div class="c" style="left:741px;width:22px"><div class="sq sg" style="">D</div></div>
<div class="c" style="left:763px;width:22px"><div class="sq sg" style=";font-family:'Liberation Serif',serif">I</div></div>
</div>
<div class="row" style="top:592px;background:#fcfcfc">
<div class="c" style="left:0px;width:22px;"></div>
<div class="c" style="left:22px;width:121px;padding-left:5px">10/2009/1</div>
<div class="c" style="left:143px;width:22px;"></div>
<div class="c" style="left:165px;width:234px;padding-left:5px">Anonymous customer</div>
<div class="c" style="left:399px;width:160px;"></div>
<div class="c" style="left:559px;width:116px;text-align:right;padding-right:5px;color:#111;">344,60</div>
<div class="c" style="left:675px;width:22px"><div class="sq sx" style="background:#fdfdfd">O</div></div>
<div class="c" style="left:697px;width:22px"><div class="sq sx" style="background:#fdfdfd">R</div></div>
<div class="c" style="left:719px;width:22px"><div class="sq sg" style="">L</div></div>
<div class="c" style="left:741px;width:22px"><div class="sq sx" style="background:#fdfdfd">D</div></div>
<div class="c" style="left:763px;width:22px"><div class="sq sg" style=";font-family:'Liberation Serif',serif">I</div></div>
</div>
<div class="row" style="top:614px;background:#fcfcfc">
<div class="c" style="left:0px;width:22px;"></div>
<div class="c" style="left:22px;width:121px;padding-left:5px">10/2009/2</div>
<div class="c" style="left:143px;width:22px;"></div>
<div class="c" style="left:165px;width:234px;padding-left:5px">Tesco London</div>
<div class="c" style="left:399px;width:160px;"></div>
<div class="c" style="left:559px;width:116px;text-align:right;padding-right:5px;color:#111;">4 479,30</div>
<div class="c" style="left:675px;width:22px"><div class="sq sx" style="background:#fdfdfd">O</div></div>
<div class="c" style="left:697px;width:22px"><div class="sq sx" style="background:#fdfdfd">R</div></div>
<div class="c" style="left:719px;width:22px"><div class="sq sg" style="">L</div></div>
<div class="c" style="left:741px;width:22px"><div class="sq sg" style="">D</div></div>
<div class="c" style="left:763px;width:22px"><div class="sq sg" style=";font-family:'Liberation Serif',serif">I</div></div>
</div>
<div class="row" style="top:636px;background:#fcfcfc">
<div class="c" style="left:0px;width:22px;"></div>
<div class="c" style="left:22px;width:121px;padding-left:5px">10/2009/3</div>
<div class="c" style="left:143px;width:22px;"></div>
<div class="c" style="left:165px;width:234px;padding-left:5px">Retail</div>
<div class="c" style="left:399px;width:160px;"></div>
<div class="c" style="left:559px;width:116px;text-align:right;padding-right:5px;color:#111;background:#fdd7a6;">9 012,10</div>
<div class="c" style="left:675px;width:22px"><div class="sq sx" style="background:#fdfdfd">O</div></div>
<div class="c" style="left:697px;width:22px"><div class="sq sx" style="background:#fdfdfd">R</div></div>
<div class="c" style="left:719px;width:22px"><div class="sq sg" style="">L</div></div>
<div class="c" style="left:741px;width:22px"><div class="sq sg" style="">D</div></div>
<div class="c" style="left:763px;width:22px"><div class="sq sg" style=";font-family:'Liberation Serif',serif">I</div></div>
</div>
<div class="row" style="top:658px;background:#fcfcfc">
<div class="c" style="left:0px;width:22px;"></div>
<div class="c" style="left:22px;width:121px;padding-left:5px">10/2009/4</div>
<div class="c" style="left:143px;width:22px;"></div>
<div class="c" style="left:165px;width:234px;padding-left:5px">Shell U.K. Ltd.</div>
<div class="c" style="left:399px;width:160px;"></div>
<div class="c" style="left:559px;width:116px;text-align:right;padding-right:5px;color:#111;">870,50</div>
<div class="c" style="left:675px;width:22px"><div class="sq sx" style="background:#fdfdfd">O</div></div>
<div class="c" style="left:697px;width:22px"><div class="sq sx" style="background:#fdfdfd">R</div></div>
<div class="c" style="left:719px;width:22px"><div class="sq sg" style="">L</div></div>
<div class="c" style="left:741px;width:22px"><div class="sq sg" style="">D</div></div>
<div class="c" style="left:763px;width:22px"><div class="sq sg" style=";font-family:'Liberation Serif',serif">I</div></div>
</div>
<div class="row" style="top:680px;background:#fcfcfc">
<div class="c" style="left:0px;width:22px;"></div>
<div class="c" style="left:22px;width:121px;padding-left:5px">10/2009/5</div>
<div class="c" style="left:143px;width:22px;"></div>
<div class="c" style="left:165px;width:234px;padding-left:5px">Tesco Manchester</div>
<div class="c" style="left:399px;width:160px;"></div>
<div class="c" style="left:559px;width:116px;text-align:right;padding-right:5px;color:#111;">2 243,20</div>
<div class="c" style="left:675px;width:22px"><div class="sq sx" style="background:#fdfdfd">O</div></div>
<div class="c" style="left:697px;width:22px"><div class="sq sx" style="background:#fdfdfd">R</div></div>
<div class="c" style="left:719px;width:22px"><div class="sq sg" style="">L</div></div>
<div class="c" style="left:741px;width:22px"><div class="sq sg" style="">D</div></div>
<div class="c" style="left:763px;width:22px"><div class="sq sx" style="background:#fdfdfd;font-family:'Liberation Serif',serif">I</div></div>
</div>
<div class="row" style="top:702px;background:#fcfcfc">
<div class="c" style="left:0px;width:22px;"></div>
<div class="c" style="left:22px;width:121px;padding-left:5px">10/2009/6</div>
<div class="c" style="left:143px;width:22px;"></div>
<div class="c" style="left:165px;width:234px;padding-left:5px">Anonymous customer</div>
<div class="c" style="left:399px;width:160px;"></div>
<div class="c" style="left:559px;width:116px;text-align:right;padding-right:5px;color:#111;">5,60</div>
<div class="c" style="left:675px;width:22px"><div class="sq sx" style="background:#fdfdfd">O</div></div>
<div class="c" style="left:697px;width:22px"><div class="sq sx" style="background:#fdfdfd">R</div></div>
<div class="c" style="left:719px;width:22px"><div class="sq sg" style="">L</div></div>
<div class="c" style="left:741px;width:22px"><div class="sq sx" style="background:#fdfdfd">D</div></div>
<div class="c" style="left:763px;width:22px"><div class="sq sg" style=";font-family:'Liberation Serif',serif">I</div></div>
</div>
<div class="row" style="top:724px;background:#fcfcfc">
<div class="c" style="left:0px;width:22px;"></div>
<div class="c" style="left:22px;width:121px;padding-left:5px">10/2009/7</div>
<div class="c" style="left:143px;width:22px;"></div>
<div class="c" style="left:165px;width:234px;padding-left:5px">Sound Engineering School</div>
<div class="c" style="left:399px;width:160px;"></div>
<div class="c" style="left:559px;width:116px;text-align:right;padding-right:5px;color:#111;">2 260,00</div>
<div class="c" style="left:675px;width:22px"><div class="sq sg" style="">O</div></div>
<div class="c" style="left:697px;width:22px"><div class="sq sx" style="background:#fdfdfd">R</div></div>
<div class="c" style="left:719px;width:22px"><div class="sq so" style="">l</div></div>
<div class="c" style="left:741px;width:22px"><div class="sq sx" style="background:#fdfdfd">D</div></div>
<div class="c" style="left:763px;width:22px"><div class="sq sg" style=";font-family:'Liberation Serif',serif">I</div></div>
</div>
<div class="row" style="top:746px;background:#fcfcfc">
<div class="c" style="left:0px;width:22px;"></div>
<div class="c" style="left:22px;width:121px;padding-left:5px">10/2009/8</div>
<div class="c" style="left:143px;width:22px;"></div>
<div class="c" style="left:165px;width:234px;padding-left:5px">Anonymous customer</div>
<div class="c" style="left:399px;width:160px;"></div>
<div class="c" style="left:559px;width:116px;text-align:right;padding-right:5px;color:#111;">0,00</div>
<div class="c" style="left:675px;width:22px"><div class="sq sx" style="background:#fdfdfd">O</div></div>
<div class="c" style="left:697px;width:22px"><div class="sq sx" style="background:#fdfdfd">R</div></div>
<div class="c" style="left:719px;width:22px"><div class="sq sg" style="">L</div></div>
<div class="c" style="left:741px;width:22px"><div class="sq sx" style="background:#fdfdfd">D</div></div>
<div class="c" style="left:763px;width:22px"><div class="sq sg" style=";font-family:'Liberation Serif',serif">I</div></div>
</div>
<div class="row" style="top:768px;background:#b3cde3">
<div class="c" style="left:0px;width:22px;"></div>
<div class="c" style="left:22px;width:121px;padding-left:5px">10/2009/9</div>
<div class="c" style="left:143px;width:22px;"></div>
<div class="c" style="left:165px;width:234px;padding-left:5px">AB Group</div>
<div class="c" style="left:399px;width:160px;"></div>
<div class="c" style="left:559px;width:116px;text-align:right;padding-right:5px;color:#111;">973,80</div>
<div class="c" style="left:675px;width:22px"><div class="sq sg" style="">O</div></div>
<div class="c" style="left:697px;width:22px"><div class="sq ss" style="">R</div></div>
<div class="c" style="left:719px;width:22px"><div class="sq sg" style="">L</div></div>
<div class="c" style="left:741px;width:22px"><div class="sq sg" style="">D</div></div>
<div class="c" style="left:763px;width:22px"><div class="sq sg" style=";font-family:'Liberation Serif',serif">I</div></div>
</div>
<div class="row" style="top:790px;background:#fcfcfc">
<div class="c" style="left:0px;width:22px;"></div>
<div class="c" style="left:22px;width:121px;padding-left:5px">10/2009/10</div>
<div class="c" style="left:143px;width:22px;"></div>
<div class="c" style="left:165px;width:234px;padding-left:5px">Tesco Manchester</div>
<div class="c" style="left:399px;width:160px;"></div>
<div class="c" style="left:559px;width:116px;text-align:right;padding-right:5px;color:#111;">4 484,10</div>
<div class="c" style="left:675px;width:22px"><div class="sq sg" style="">O</div></div>
<div class="c" style="left:697px;width:22px"><div class="sq sx" style="background:#fdfdfd">R</div></div>
<div class="c" style="left:719px;width:22px"><div class="sq sg" style="">L</div></div>
<div class="c" style="left:741px;width:22px"><div class="sq sg" style="">D</div></div>
<div class="c" style="left:763px;width:22px"><div class="sq sg" style=";font-family:'Liberation Serif',serif">I</div></div>
</div>
<div class="row" style="top:812px;background:#fcfcfc">
<div class="c" style="left:0px;width:22px;"></div>
<div class="c" style="left:22px;width:121px;padding-left:5px">10/2009/11</div>
<div class="c" style="left:143px;width:22px;"></div>
<div class="c" style="left:165px;width:234px;padding-left:5px">Retail</div>
<div class="c" style="left:399px;width:160px;"></div>
<div class="c" style="left:559px;width:116px;text-align:right;padding-right:5px;color:#111;">804,70</div>
<div class="c" style="left:675px;width:22px"><div class="sq sx" style="background:#fdfdfd">O</div></div>
<div class="c" style="left:697px;width:22px"><div class="sq sx" style="background:#fdfdfd">R</div></div>
<div class="c" style="left:719px;width:22px"><div class="sq sg" style="">L</div></div>
<div class="c" style="left:741px;width:22px"><div class="sq sg" style="">D</div></div>
<div class="c" style="left:763px;width:22px"><div class="sq sg" style=";font-family:'Liberation Serif',serif">I</div></div>
</div>
<div class="a" style="left:79px;top:849px;width:804px;height:26px;background:#f0f0f0;border-top:1px solid #d6d6d6"></div>
<div class="a" style="left:79px;top:851px;width:23px;height:23px;background:#d2d2d2;border:2px solid #808080"></div>
<svg style="left:83px;top:856px" width="15" height="14" viewBox="0 0 15 14"><path d="M0.7 12.5V1.2Q4 0 7.5 1.5Q11 0 14.3 1.2V12.5Q11 11.2 7.5 12.8Q4 11.2 0.7 12.5Z M7.5 1.5V13.5" fill="none" stroke="#1257a8" stroke-width="1.3"/></svg>
<svg style="left:108px;top:856px" width="13" height="13" viewBox="0 0 13 13"><path d="M2 0.7H11L12.3 3V12.3H0.7V3Z" fill="none" stroke="#1257a8" stroke-width="1.3"/><path d="M2 1.2H11L12 3H1Z" fill="#9fb8d8"/><path d="M0.7 3.3H12.3" stroke="#1257a8" stroke-width="1"/><path d="M5 5.8H8" stroke="#1257a8" stroke-width="1.3"/></svg>
<svg style="left:132px;top:855px" width="17" height="18" viewBox="0 0 17 18"><path d="M0.7 1.2H12.5L7.6 8V14.5L5.6 13V8Z" fill="none" stroke="#1257a8" stroke-width="1.3"/><path d="M1.2 1.2H12L11 2.6H2.2Z" fill="#9fb8d8"/><path d="M11 14.5H16.5L13.75 17.3Z" fill="#1257a8"/></svg>
<div class="a" style="left:151px;top:853px;width:1px;height:20px;background:#d0d0d0"></div>
<svg style="left:157px;top:855px" width="16" height="16" viewBox="0 0 16 16"><g transform="translate(7.5 7.5)"><path d="M0 -7V7M-6.06 -3.5L6.06 3.5M6.06 -3.5L-6.06 3.5" stroke="#1257a8" stroke-width="3.6" stroke-linecap="square"/><path d="M0 -6.3V6.3M-5.45 -3.15L5.45 3.15M5.45 -3.15L-5.45 3.15" stroke="#f0f0f0" stroke-width="1.2"/></g></svg>
<div class="t" style="left:181px;top:857px;font-size:12.5px;color:#1257a8">0</div>
<div class="a" style="left:194px;top:853px;width:1px;height:20px;background:#d0d0d0"></div>
<div class="t" style="left:201px;top:857px;font-size:12px;color:#1257a8">Number of records</div>
<div class="a" style="left:308px;top:853px;width:1px;height:20px;background:#d0d0d0"></div>
<div class="a" style="left:831px;top:853px;width:1px;height:20px;background:#d0d0d0"></div>
<div class="a" style="left:857px;top:853px;width:1px;height:20px;background:#d0d0d0"></div>
<svg style="left:838px;top:856px" width="13" height="13" viewBox="0 0 13 13"><path d="M12.5 0.7H1L6.5 6.5L1 12.3H12.5" fill="none" stroke="#1257a8" stroke-width="1.3"/></svg>
<svg style="left:863px;top:855px" width="15" height="15" viewBox="0 0 15 15"><path d="M0.8 14L1.5 10.5L10 2Q11 1 12 2L13 3Q14 4 13 5L4.5 13.5Z M9 3L12 6" fill="none" stroke="#1257a8" stroke-width="1.2"/><path d="M8 14H14.5" stroke="#1257a8" stroke-width="1.3"/></svg>
<div class="a" style="left:894px;top:34px;width:7px;height:849px;background:#00aeef"></div>
<div class="a" style="left:896px;top:447.5px;width:3px;height:3px;border-radius:50%;background:#7fd0f5"></div>
<div class="a" style="left:896px;top:456.5px;width:3px;height:3px;border-radius:50%;background:#7fd0f5"></div>
<div class="a" style="left:896px;top:465.5px;width:3px;height:3px;border-radius:50%;background:#7fd0f5"></div>
<div class="a" style="left:901px;top:34px;width:3px;height:849px;background:#fafafa"></div>
<div class="a" style="left:904px;top:34px;width:219px;height:849px;background:#0054a6"></div>
<div class="t" style="left:909px;top:47px;font-size:19px;color:#fff">Sales order 10/200...</div>
<svg style="left:1101px;top:48px" width="14" height="14" viewBox="0 0 14 14"><path d="M6 3H1V13H11V8" fill="none" stroke="#fff" stroke-width="1.3"/><path d="M7 0.7H13.3V7 M13.3 0.7L5 9" fill="none" stroke="#fff" stroke-width="1.3"/></svg>
<div class="sec" style="top:79px;height:204px">
<div class="sech">Basic data</div>
<div class="a" style="left:188px;top:3px;width:1px;height:19px;background:#1a90cf"></div>
<svg style="left:194px;top:9px" width="14" height="8" viewBox="0 0 14 8"><path d="M0.5 7.3L7 1L13.5 7.3" fill="none" stroke="#fff" stroke-width="1.3"/></svg>

<div class="t" style="left:7px;top:32px;font-size:12px;color:#1d4fa3">Firm:</div>
<div class="t" style="left:39px;top:32px;font-size:11.6px;color:#111">AB Group; Lower St.; London; ...</div>
<div class="a" style="left:7px;top:46px;width:199px;height:1px;background:#e3e3e3"></div>
<div class="t" style="left:7px;top:55px;font-size:12px;color:#1d4fa3;">Description:</div>
<div class="a" style="left:7px;top:68px;width:199px;height:1px;background:#e3e3e3"></div>
<div class="t" style="left:7px;top:83px;font-size:12px;color:#1d4fa3;">Net:</div>
<div class="t" style="right:8px;top:83px;font-size:12px;transform:scaleX(0.91);transform-origin:100% 50%;color:#111;">12 910,60 <span class="g">GBP</span></div>
<div class="a" style="left:7px;top:96px;width:199px;height:1px;background:#e3e3e3"></div>
<div class="t" style="left:7px;top:105px;font-size:12px;color:#1d4fa3;">VAT:</div>
<div class="t" style="right:8px;top:105px;font-size:12px;transform:scaleX(0.91);transform-origin:100% 50%;color:#111;">2 582,20 <span class="g">GBP</span></div>
<div class="a" style="left:7px;top:118px;width:199px;height:1px;background:#e3e3e3"></div>
<div class="t" style="left:7px;top:127px;font-size:12px;color:#1d4fa3;font-weight:bold;">Gross:</div>
<div class="t" style="right:8px;top:127px;font-size:12px;transform:scaleX(1.0);transform-origin:100% 50%;color:#111;font-weight:bold;">15 492,80 <span class="g">GBP</span></div>
<div class="a" style="left:7px;top:140px;width:199px;height:1px;background:#e3e3e3"></div>
<div class="t" style="left:7px;top:155px;font-size:12px;color:#1d4fa3;">Delivery date:</div>
<div class="t" style="right:8px;top:155px;font-size:12px;transform:scaleX(0.91);transform-origin:100% 50%;color:#111;">15.10.2008</div>
<div class="a" style="left:7px;top:167px;width:199px;height:1px;background:#e3e3e3"></div>
<div class="a" style="left:7px;top:175px;width:23px;height:23px;font-size:16px;font-weight:bold;text-align:center;line-height:24px;border:1px solid #cfcfcf;color:#c4c4c4;background:#fbfbfb;line-height:23px;font-weight:normal;font-size:16px;">O</div>
<div class="a" style="left:33px;top:175px;width:23px;height:23px;font-size:16px;font-weight:bold;text-align:center;line-height:24px;border:1px solid #cfcfcf;color:#c4c4c4;background:#fbfbfb;line-height:23px;font-weight:normal;font-size:16px;">R</div>
<div class="a" style="left:59px;top:175px;width:23px;height:23px;font-size:16px;font-weight:bold;text-align:center;line-height:24px;background:#669900;color:#fff;">L</div>
<div class="a" style="left:85px;top:175px;width:23px;height:23px;font-size:16px;font-weight:bold;text-align:center;line-height:24px;background:#669900;color:#fff;">D</div>
<div class="a" style="left:111px;top:175px;width:23px;height:23px;font-size:16px;font-weight:bold;text-align:center;line-height:24px;background:#669900;color:#fff;font-family:'Liberation Serif',serif;">I</div>
<div class="a" style="left:137px;top:175px;width:23px;height:23px;font-size:16px;font-weight:bold;text-align:center;line-height:24px;border:1px solid #cfcfcf;color:#c4c4c4;background:#fbfbfb;line-height:23px;font-weight:normal;font-size:16px;">J</div>
</div>
<div class="sec" style="top:290px;height:75px">
<div class="sech">Advances to sales o...</div>
<div class="a" style="left:188px;top:3px;width:1px;height:19px;background:#1a90cf"></div>
<svg style="left:194px;top:9px" width="14" height="8" viewBox="0 0 14 8"><path d="M0.5 7.3L7 1L13.5 7.3" fill="none" stroke="#fff" stroke-width="1.3"/></svg>
<svg style="left:147px;top:4px" width="14" height="17" viewBox="0 0 14 17"><path d="M1 1H8.5L13 5.5V16H1Z M8.5 1V5.5H13" fill="none" stroke="#fff" stroke-width="1.2"/></svg>
<svg style="left:166px;top:5px" width="20" height="15" viewBox="0 0 20 15"><path d="M0 1H20M0 5H20M0 9.5H20M0 14H20" stroke="#fff" stroke-width="1.1"/></svg>
<div class="t" style="left:7px;top:33px;font-size:12px;color:#1d4fa3;">Deducted:</div>
<div class="t" style="right:8px;top:33px;font-size:12px;transform:scaleX(0.91);transform-origin:100% 50%;color:#111;">0,00 <span class="g">GBP</span></div>
<div class="a" style="left:7px;top:46px;width:199px;height:1px;background:#e3e3e3"></div>
<div class="t" style="left:7px;top:55px;font-size:12px;color:#1d4fa3;font-weight:bold;">Remains to deduct:</div>
<div class="t" style="right:8px;top:55px;font-size:12px;transform:scaleX(1.0);transform-origin:100% 50%;color:#111;font-weight:bold;">0,00 <span class="g">GBP</span></div>
<div class="a" style="left:7px;top:67px;width:199px;height:1px;background:#e3e3e3"></div>
</div>
<div class="sec" style="top:372px;height:75px">
<div class="sech">Advances to customer</div>
<div class="a" style="left:188px;top:3px;width:1px;height:19px;background:#1a90cf"></div>
<svg style="left:194px;top:9px" width="14" height="8" viewBox="0 0 14 8"><path d="M0.5 7.3L7 1L13.5 7.3" fill="none" stroke="#fff" stroke-width="1.3"/></svg>
<svg style="left:166px;top:5px" width="20" height="15" viewBox="0 0 20 15"><path d="M0 1H20M0 5H20M0 9.5H20M0 14H20" stroke="#fff" stroke-width="1.1"/></svg>
<div class="t" style="left:7px;top:33px;font-size:12px;color:#1d4fa3;">Deducted:</div>
<div class="t" style="right:8px;top:33px;font-size:12px;transform:scaleX(0.91);transform-origin:100% 50%;color:#111;">27 328,80 <span class="g">GBP</span></div>
<div class="a" style="left:7px;top:46px;width:199px;height:1px;background:#e3e3e3"></div>
<div class="t" style="left:7px;top:55px;font-size:12px;color:#1d4fa3;font-weight:bold;">Remains to deduct:</div>
<div class="t" style="right:8px;top:55px;font-size:12px;transform:scaleX(1.0);transform-origin:100% 50%;color:#111;font-weight:bold;">12 892,80 <span class="g">GBP</span></div>
<div class="a" style="left:7px;top:68px;width:199px;height:1px;background:#e3e3e3"></div>
</div>
<div class="sec" style="top:454px;height:255px">
<div class="sech">Business information</div>
<div class="a" style="left:188px;top:3px;width:1px;height:19px;background:#1a90cf"></div>
<svg style="left:194px;top:9px" width="14" height="8" viewBox="0 0 14 8"><path d="M0.5 7.3L7 1L13.5 7.3" fill="none" stroke="#fff" stroke-width="1.3"/></svg>

<div class="t" style="left:12px;top:36px;font-size:13.5px;font-weight:bold;color:#1c4d9e">Plan</div>
<div class="a" style="left:7px;top:54px;width:199px;height:2px;background:#00aeef"></div>
<div class="t" style="left:7px;top:60px;font-size:12px;color:#1d4fa3;">Profit:</div>
<div class="t" style="right:8px;top:60px;font-size:12px;transform:scaleX(0.91);transform-origin:100% 50%;color:#111;">144,56 <span class="g">GBP</span></div>
<div class="t" style="left:7px;top:81px;font-size:12px;color:#1d4fa3;">Surcharge:</div>
<div class="t" style="right:8px;top:81px;font-size:12px;transform:scaleX(0.91);transform-origin:100% 50%;color:#111;">1,13 <span class="g">['%']</span></div>
<div class="t" style="left:7px;top:103px;font-size:12px;color:#1d4fa3;">Margain:</div>
<div class="t" style="right:8px;top:103px;font-size:12px;transform:scaleX(0.91);transform-origin:100% 50%;color:#111;">1,12</div>
<div class="t" style="left:7px;top:123px;font-size:12px;color:#1d4fa3;">Stock price:</div>
<div class="t" style="right:8px;top:123px;font-size:12px;transform:scaleX(0.91);transform-origin:100% 50%;color:#111;">12 766,00 <span class="g">GBP</span></div>
<div class="t" style="left:11px;top:149px;font-size:13.5px;font-weight:bold;color:#1c4d9e">Actual state</div>
<div class="a" style="left:7px;top:166px;width:199px;height:2px;background:#00aeef"></div>
<div class="t" style="left:7px;top:173px;font-size:12px;color:#1d4fa3;">Profit:</div>
<div class="t" style="right:8px;top:173px;font-size:12px;transform:scaleX(0.91);transform-origin:100% 50%;color:#111;">3 782,08 <span class="g">GBP</span></div>
<div class="t" style="left:7px;top:194px;font-size:12px;color:#1d4fa3;">Surcharge:</div>
<div class="t" style="right:8px;top:194px;font-size:12px;transform:scaleX(0.91);transform-origin:100% 50%;color:#111;">41,43</div>
<div class="t" style="left:7px;top:215px;font-size:12px;color:#1d4fa3;">Margain:</div>
<div class="t" style="right:8px;top:215px;font-size:12px;transform:scaleX(0.91);transform-origin:100% 50%;color:#111;">29,29</div>
<div class="t" style="left:7px;top:236px;font-size:12px;color:#1d4fa3;">Stock price:</div>
<div class="t" style="right:8px;top:236px;font-size:12px;transform:scaleX(0.91);transform-origin:100% 50%;color:#111;">9 128,48 <span class="g">GBP</span></div>
</div>
<div class="sec" style="top:716px;height:76px">
<div class="sech">Other details</div>
<div class="a" style="left:188px;top:3px;width:1px;height:19px;background:#1a90cf"></div>
<svg style="left:194px;top:9px" width="14" height="8" viewBox="0 0 14 8"><path d="M0.5 7.3L7 1L13.5 7.3" fill="none" stroke="#fff" stroke-width="1.3"/></svg>

<div class="t" style="left:7px;top:33px;font-size:12px;color:#1d4fa3;">Created:</div>
<div class="a" style="left:7px;top:46px;width:199px;height:1px;background:#e3e3e3"></div>
<div class="t" style="right:8px;top:33px;font-size:12px;transform:scaleX(0.94);transform-origin:100% 50%;color:#111">DEMO <span class="g">2008-10-06 00:00:00</span></div>
<div class="t" style="left:7px;top:55px;font-size:12px;color:#1d4fa3;">Changed by:</div>
<div class="a" style="left:7px;top:68px;width:199px;height:1px;background:#e3e3e3"></div>
<div class="t" style="right:8px;top:55px;font-size:12px;transform:scaleX(0.94);transform-origin:100% 50%;color:#111">K2 <span class="g">2012-05-25 11:35:34</span></div>
</div>
<div class="sec" style="top:804px;height:75px">
<div class="sech">Settings</div>
<div class="a" style="left:188px;top:3px;width:1px;height:19px;background:#1a90cf"></div>
<svg style="left:194px;top:9px" width="14" height="8" viewBox="0 0 14 8"><path d="M0.5 7.3L7 1L13.5 7.3" fill="none" stroke="#fff" stroke-width="1.3"/></svg>

<div class="t" style="left:14px;top:32px;font-size:12px;color:#1d4fa3">Bus. year</div>
<div class="t" style="left:117px;top:32px;font-size:12px;color:#1d4fa3">Warehouse</div>
<div class="a" style="left:7px;top:46px;width:97px;height:23px;background:#fffde3;border:1px solid #00aeef"><div class="t" style="left:2px;top:5px;font-size:13px;color:#111">2017</div><svg style="right:6px;top:6px" width="12" height="11" viewBox="0 0 12 11"><rect x="0.5" y="0.5" width="2.5" height="2.5" fill="none" stroke="#1257a8" stroke-width="1"/><rect x="4.8" y="0.5" width="2.5" height="2.5" fill="none" stroke="#1257a8" stroke-width="1"/><rect x="9" y="0.5" width="2.5" height="2.5" fill="none" stroke="#1257a8" stroke-width="1"/><path d="M0.5 5L6 10L11.5 5" fill="none" stroke="#1257a8" stroke-width="1.1"/></svg></div>
<div class="a" style="left:110px;top:46px;width:96px;height:23px;background:#fffde3;border:1px solid #00aeef"><svg style="right:6px;top:6px" width="12" height="11" viewBox="0 0 12 11"><rect x="0.5" y="0.5" width="2.5" height="2.5" fill="none" stroke="#1257a8" stroke-width="1"/><rect x="4.8" y="0.5" width="2.5" height="2.5" fill="none" stroke="#1257a8" stroke-width="1"/><rect x="9" y="0.5" width="2.5" height="2.5" fill="none" stroke="#1257a8" stroke-width="1"/><path d="M0.5 5L6 10L11.5 5" fill="none" stroke="#1257a8" stroke-width="1.1"/></svg></div>
</div>
<svg style="left:870px;top:393px" width="54" height="130" viewBox="0 0 54 130"><ellipse cx="27" cy="64" rx="22.5" ry="60" fill="none" stroke="#e3141b" stroke-width="2.6"/></svg>
</body></html>
